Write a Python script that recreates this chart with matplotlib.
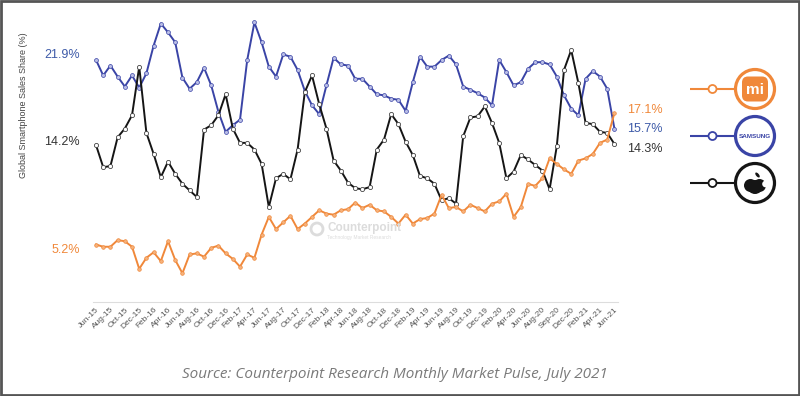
import numpy as np
import matplotlib
matplotlib.use('Agg')
import matplotlib.pyplot as plt
from matplotlib.patches import Circle, Ellipse, FancyBboxPatch, Rectangle

plt.rcParams['font.family'] = ['Liberation Sans', 'DejaVu Sans']

# monthly share, Jun-15 .. Jun-21 (%)
samsung = [21.9, 20.5, 21.4, 20.4, 19.5, 20.5, 19.4, 20.7, 23.2, 25.2,
           24.4, 23.5, 20.3, 19.3, 19.9, 21.2, 19.6, 17.2, 15.4, 16.0,
           16.5, 21.9, 25.3, 23.5, 21.3, 20.4, 22.4, 22.2, 21.0, 19.1,
           17.8, 17.0, 19.6, 22.1, 21.5, 21.4, 20.2, 20.2, 19.5, 18.8,
           18.7, 18.4, 18.3, 17.3, 19.9, 22.2, 21.3, 21.3, 21.9, 22.3,
           21.5, 19.5, 19.2, 18.9, 18.5, 17.8, 21.9, 20.8, 19.6, 19.9,
           21.1, 21.7, 21.7, 21.5, 20.4, 18.7, 17.5, 16.9, 20.2, 20.9,
           20.4, 19.3, 15.7]
apple = [14.2, 12.2, 12.3, 14.9, 15.7, 16.9, 21.3, 15.3, 13.4, 11.3,
         12.7, 11.6, 10.7, 10.1, 9.5, 15.6, 16.0, 16.9, 18.8, 15.7,
         14.4, 14.4, 13.8, 12.5, 8.6, 11.2, 11.6, 11.1, 13.8, 19.0,
         20.5, 17.9, 15.7, 12.8, 11.9, 10.8, 10.3, 10.2, 10.4, 13.8,
         14.7, 17.0, 16.1, 14.5, 13.3, 11.4, 11.2, 10.7, 9.2, 9.4,
         8.9, 15.0, 16.7, 16.8, 17.7, 16.2, 14.4, 11.2, 11.8, 13.3,
         12.9, 12.4, 11.9, 10.2, 14.1, 21.0, 22.8, 19.8, 16.2, 16.1,
         15.4, 15.3, 14.3]
xiaomi = [5.2, 5.0, 5.0, 5.6, 5.5, 5.0, 3.0, 4.0, 4.5, 3.7,
          5.5, 3.8, 2.6, 4.3, 4.4, 4.1, 4.9, 5.1, 4.4, 3.9,
          3.2, 4.3, 4.0, 6.1, 7.7, 6.6, 7.2, 7.8, 6.6, 7.1,
          7.7, 8.3, 8.0, 7.9, 8.3, 8.4, 9.0, 8.5, 8.8, 8.3,
          8.2, 7.7, 7.1, 7.9, 7.1, 7.5, 7.6, 8.0, 9.7, 8.5,
          8.6, 8.2, 8.8, 8.5, 8.2, 8.9, 9.1, 9.8, 7.7, 8.6,
          10.7, 10.5, 11.2, 13.0, 12.5, 12.0, 11.6, 12.8, 13.0, 13.4,
          14.4, 14.7, 17.1]

tick_labels = ['Jun-15', 'Aug-15', 'Oct-15', 'Dec-15', 'Feb-16', 'Apr-16', 'Jun-16',
               'Aug-16', 'Oct-16', 'Dec-16', 'Feb-17', 'Apr-17', 'Jun-17', 'Aug-17',
               'Oct-17', 'Dec-17', 'Feb-18', 'Apr-18', 'Jun-18', 'Aug-18', 'Oct-18',
               'Dec-18', 'Feb-19', 'Apr-19', 'Jun-19', 'Aug-19', 'Oct-19', 'Dec-19',
               'Feb-20', 'Apr-20', 'Jun-20', 'Aug-20', 'Sep-20', 'Dec-20', 'Feb-21',
               'Apr-21', 'Jun-21']

BLUE = '#3a44a6'
BLACK = '#151515'
ORANGE = '#f0883a'

fig = plt.figure(figsize=(8, 3.96), dpi=100)
ax = fig.add_axes([93/800, 94/396, 525/800, 26*11.05/396])
x = np.arange(len(samsung))

ax.plot(x, samsung, color=BLUE, lw=1.4, marker='o', ms=2.8, mfc='#b9bde6', mec=BLUE, mew=0.5, zorder=2)
ax.plot(x, apple, color=BLACK, lw=1.4, marker='o', ms=3, mfc='white', mec='#444', mew=0.6, zorder=3)
ax.plot(x, xiaomi, color=ORANGE, lw=1.4, marker='o', ms=2.6, mfc='#f6b27c', mec=ORANGE, mew=0.5, zorder=4)

ax.set_xlim(-0.42, 72.5)
ax.set_ylim(0, 26)
for s in ['top', 'right', 'left']:
    ax.spines[s].set_visible(False)
ax.spines['bottom'].set_color('#dddddd')
ax.set_yticks([])
ax.set_xticks(x[::2])
ax.set_xticklabels(tick_labels, rotation=45, ha='right', rotation_mode='anchor',
                   fontsize=6, color='#555555')
ax.tick_params(axis='x', length=0, pad=3)

# overlay in pixel coordinates for labels, legend badges, frame
ov = fig.add_axes([0, 0, 1, 1], facecolor='none')
ov.set_xlim(0, 800)
ov.set_ylim(396, 0)
ov.axis('off')

ov.text(24, 105, 'Global Smartphone Sales Share (%)', rotation=90, ha='center', va='center',
        fontsize=6.5, color='#444444')

ov.text(80, 55, '21.9%', ha='right', va='center', fontsize=9, color='#3d5aa8')
ov.text(80, 142, '14.2%', ha='right', va='center', fontsize=9, color='#333333')
ov.text(80, 250, '5.2%', ha='right', va='center', fontsize=9, color=ORANGE)

ov.text(627, 110, '17.1%', ha='left', va='center', fontsize=9, color=ORANGE)
ov.text(627, 129.5, '15.7%', ha='left', va='center', fontsize=9, color='#3d5aa8')
ov.text(627, 149.5, '14.3%', ha='left', va='center', fontsize=9, color='#333333')

# watermark
ov.add_patch(Circle((317, 229), 6, fill=False, ec='#dcdcdc', lw=2))
ov.text(327, 228, 'Counterpoint', ha='left', va='center', fontsize=8.5, fontweight='bold', color='#dcdcdc')
ov.text(327, 237, 'Technology Market Research', ha='left', va='center', fontsize=3.5, color='#dcdcdc')

# legend badges
for yy, c in [(89, ORANGE), (136, BLUE), (183, BLACK)]:
    ov.plot([690, 735], [yy, yy], color=c, lw=1.5, solid_capstyle='butt')
    ov.add_patch(Circle((712.5, yy), 4, fc='white', ec=c, lw=1.3, zorder=5))
    ov.add_patch(Circle((755, yy), 19.5, fc='white', ec=c, lw=2.3, zorder=5))

ov.add_patch(FancyBboxPatch((742, 76.5), 26, 25, boxstyle='round,pad=0,rounding_size=6',
                            fc=ORANGE, ec='none', zorder=6))
ov.text(755, 89.5, 'mi', ha='center', va='center', fontsize=11, fontweight='bold', color='white', zorder=7)
ov.text(755, 136.5, 'SAMSUNG', ha='center', va='center', fontsize=4.6, fontweight='bold', color=BLUE, zorder=7)

# apple badge
ov.add_patch(Circle((750.5, 185.5), 6.5, fc=BLACK, ec='none', zorder=6))
ov.add_patch(Circle((759.5, 185.5), 6.5, fc=BLACK, ec='none', zorder=6))
ov.add_patch(Ellipse((755, 187), 15, 14, fc=BLACK, ec='none', zorder=6))
ov.add_patch(Circle((765.5, 184), 3.3, fc='white', ec='none', zorder=7))
ov.add_patch(Ellipse((757.5, 175), 3, 6, angle=-40, fc=BLACK, ec='none', zorder=6))

ov.text(395, 374, 'Source: Counterpoint Research Monthly Market Pulse, July 2021', ha='center', va='center',
        fontsize=11, style='italic', family='Open Sans', color='#7a7a7a')

ov.add_patch(Rectangle((1, 1), 798, 394, fill=False, ec='#555555', lw=2, zorder=10))

fig.savefig('out.png', dpi=100)
